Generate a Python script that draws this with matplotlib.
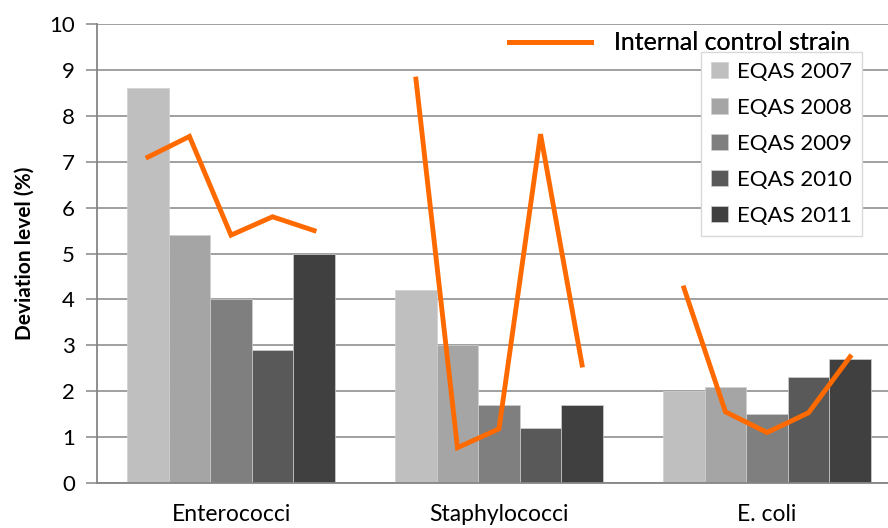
import matplotlib.pyplot as plt
import numpy as np
from matplotlib.lines import Line2D

plt.rcParams['font.family'] = ['Lato', 'DejaVu Sans']

categories = ['Enterococci', 'Staphylococci', 'E. coli']
series_names = ['EQAS 2007', 'EQAS 2008', 'EQAS 2009', 'EQAS 2010', 'EQAS 2011']
eqas_values = [
    [8.6, 4.2, 2.0],   # 2007
    [5.4, 3.0, 2.1],   # 2008
    [4.0, 1.7, 1.5],   # 2009
    [2.9, 1.2, 2.3],   # 2010
    [5.0, 1.7, 2.7],   # 2011
]
# internal control strain, one point per EQAS round within each category
control_values = [
    [7.1, 7.55, 5.4, 5.8, 5.5],
    [8.8, 0.77, 1.18, 7.6, 2.57],
    [4.25, 1.55, 1.1, 1.53, 2.75],
]
bar_colors = ['#bfbfbf', '#a5a5a5', '#7f7f7f', '#595959', '#404040']
grid_color = '#868686'
orange = '#ff6a00'

fig = plt.figure(figsize=(8.88, 5.28), dpi=100)
ax = fig.add_axes([97 / 888, 45 / 528, 804 / 888, 459 / 528])

n = len(series_names)
bw = 0.155
x = np.arange(len(categories))
offsets = (np.arange(n) - (n - 1) / 2) * bw

bar_handles = []
for i in range(n):
    b = ax.bar(x + offsets[i], eqas_values[i], bw, color=bar_colors[i],
               edgecolor='#d0d0d0', linewidth=0.5, zorder=2)
    bar_handles.append(b)

for j in range(len(categories)):
    ax.plot(x[j] + offsets, control_values[j], color=orange, lw=3.5,
            solid_joinstyle='miter', zorder=3)

ax.set_xlim(-0.5, 2.5)
ax.set_ylim(0, 10)
ax.set_yticks(range(0, 11))
ax.yaxis.grid(True, color=grid_color, lw=1.1, zorder=0)
ax.set_axisbelow(True)
ax.set_xticks(x)
ax.set_xticklabels(categories, fontsize=16.5)
ax.tick_params(axis='x', length=0, pad=15)
ax.tick_params(axis='y', length=8, width=1.1, color=grid_color, labelsize=16, pad=8)
for s in ['top', 'right']:
    ax.spines[s].set_visible(False)
for s in ['left', 'bottom']:
    ax.spines[s].set_color(grid_color)
    ax.spines[s].set_linewidth(1.3)
ax.set_ylabel('Deviation level (%)', fontsize=15, fontweight='bold', labelpad=10)

line_leg = ax.legend([Line2D([], [], color=orange, lw=3.5)], ['Internal control strain'],
                     loc='upper left', bbox_to_anchor=(496 / 888, 1 - 19 / 528),
                     bbox_transform=fig.transFigure, frameon=False, fontsize=18,
                     handlelength=3.3, handletextpad=0.9, borderpad=0)
ax.add_artist(line_leg)

fig.legend(bar_handles, series_names, loc='upper left',
           bbox_to_anchor=(701 / 888, 1 - 52 / 528), fontsize=16,
           frameon=True, fancybox=False, edgecolor='#d9d9d9', framealpha=1,
           handlelength=0.75, handleheight=0.75, handletextpad=0.4,
           labelspacing=0.72, borderpad=0.45, borderaxespad=0)

fig.savefig('out.png', dpi=100)
